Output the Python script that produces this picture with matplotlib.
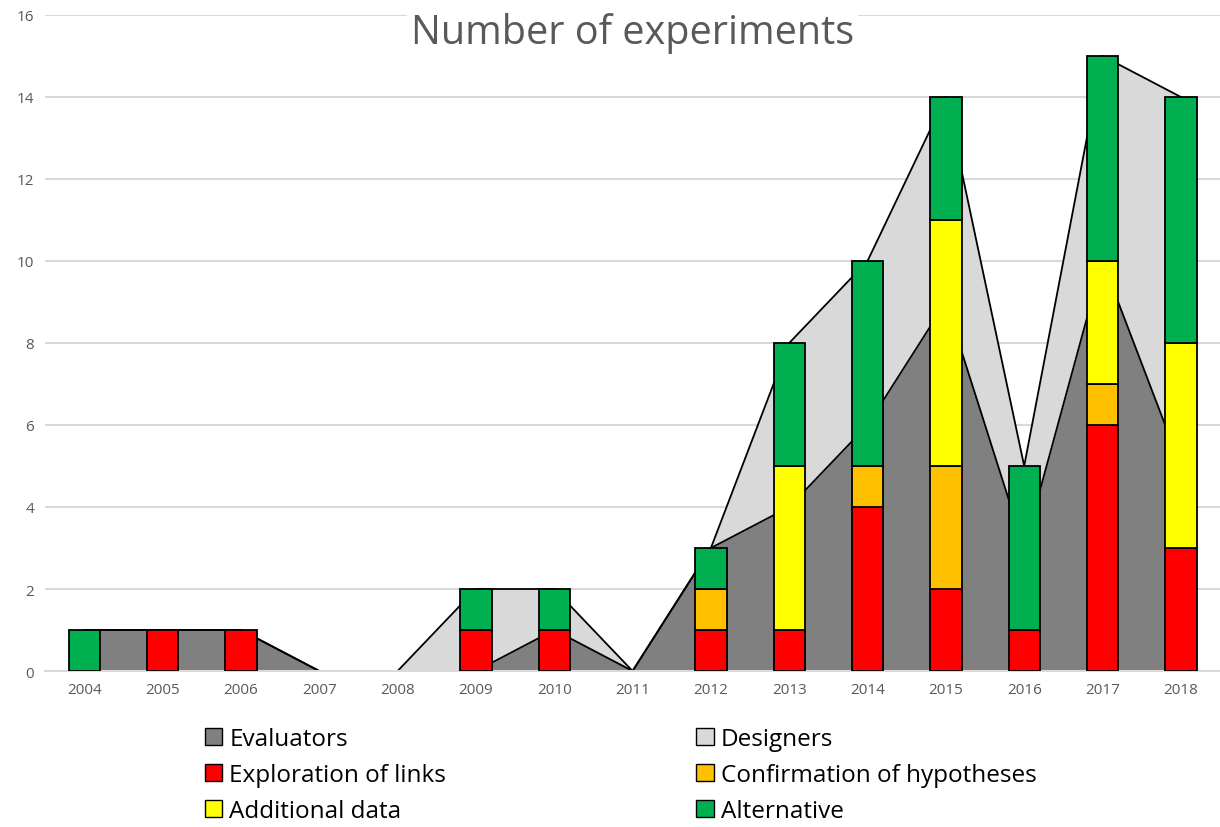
import numpy as np
import matplotlib.pyplot as plt
from matplotlib.patches import Patch

plt.rcParams['font.family'] = ['Open Sans', 'DejaVu Sans']

years = ['2004', '2005', '2006', '2007', '2008', '2009', '2010', '2011',
         '2012', '2013', '2014', '2015', '2016', '2017', '2018']

# areas (background)
evaluators = [1, 1, 1, 0, 0, 0, 1, 0, 3, 4, 6, 9, 3, 10, 5]
designers = [0, 0, 0, 0, 0, 2, 1, 0, 0, 4, 4, 5, 2, 5, 9]

# stacked bars
exploration = [0, 1, 1, 0, 0, 1, 1, 0, 1, 1, 4, 2, 1, 6, 3]
confirmation = [0, 0, 0, 0, 0, 0, 0, 0, 1, 0, 1, 3, 0, 1, 0]
additional = [0, 0, 0, 0, 0, 0, 0, 0, 0, 4, 0, 6, 0, 3, 5]
alternative = [1, 0, 0, 0, 0, 1, 1, 0, 1, 3, 5, 3, 4, 5, 6]

c_eval = '#808080'
c_des = '#D9D9D9'
c_expl = '#FF0000'
c_conf = '#FFC000'
c_add = '#FFFF00'
c_alt = '#00B050'
txt = '#595959'

fig = plt.figure(figsize=(12.2, 8.28), dpi=100)
ax = fig.add_axes([0.037, 0.1884, 0.963, 0.7923])

x = np.arange(len(years))
ev = np.array(evaluators, dtype=float)
tot = ev + np.array(designers, dtype=float)
ax.fill_between(x, 0, ev, color=c_eval, linewidth=0, zorder=2)
ax.fill_between(x, ev, tot, color=c_des, linewidth=0, zorder=2)

# outline of the areas, skipping segments lying on the baseline
for yy in [ev, tot]:
    for i in range(len(x) - 1):
        if yy[i] == 0 and yy[i + 1] == 0:
            continue
        ax.plot(x[i:i + 2], yy[i:i + 2], color='black', linewidth=1.3,
                solid_capstyle='round', zorder=2.5)

bottom = np.zeros(len(years))
for vals, col in [(exploration, c_expl), (confirmation, c_conf),
                  (additional, c_add), (alternative, c_alt)]:
    v = np.array(vals, dtype=float)
    nz = v > 0
    ax.bar(x[nz], v[nz], 0.4, bottom=bottom[nz], color=col,
           edgecolor='black', linewidth=1.3, zorder=3)
    bottom += v

ax.set_xlim(-0.5, len(years) - 0.5)
ax.set_ylim(0, 16)
ax.set_yticks(range(0, 17, 2))
ax.set_xticks(x)
ax.set_xticklabels(years)
ax.yaxis.grid(True, color='#D9D9D9', linewidth=1.5, zorder=0)
ax.set_axisbelow(True)
for s in ['top', 'right', 'left']:
    ax.spines[s].set_visible(False)
ax.spines['bottom'].set_color('#D9D9D9')
ax.spines['bottom'].set_linewidth(1.5)
ax.tick_params(length=0, labelsize=11, colors=txt, pad=8)

ax.text(0.5, 0.974, 'Number of experiments', transform=ax.transAxes,
        ha='center', va='center', fontsize=28.5, color=txt, zorder=5,
        bbox=dict(facecolor='white', edgecolor='none', pad=3))

handles = [Patch(facecolor=c_eval, edgecolor='black', label='Evaluators'),
           Patch(facecolor=c_expl, edgecolor='black', label='Exploration of links'),
           Patch(facecolor=c_add, edgecolor='black', label='Additional data'),
           Patch(facecolor=c_des, edgecolor='black', label='Designers'),
           Patch(facecolor=c_conf, edgecolor='black', label='Confirmation of hypotheses'),
           Patch(facecolor=c_alt, edgecolor='black', label='Alternative')]
leg = fig.legend(handles=handles, ncol=2, loc='upper left',
                 bbox_to_anchor=(0.168, 0.121), frameon=False,
                 fontsize=17.5, handlelength=0.7, handleheight=0.7,
                 handletextpad=0.3, columnspacing=10.3, labelspacing=0.5,
                 borderaxespad=0, borderpad=0)
for t in leg.get_texts():
    t.set_color('#000000')

fig.savefig('out.png', dpi=100)
